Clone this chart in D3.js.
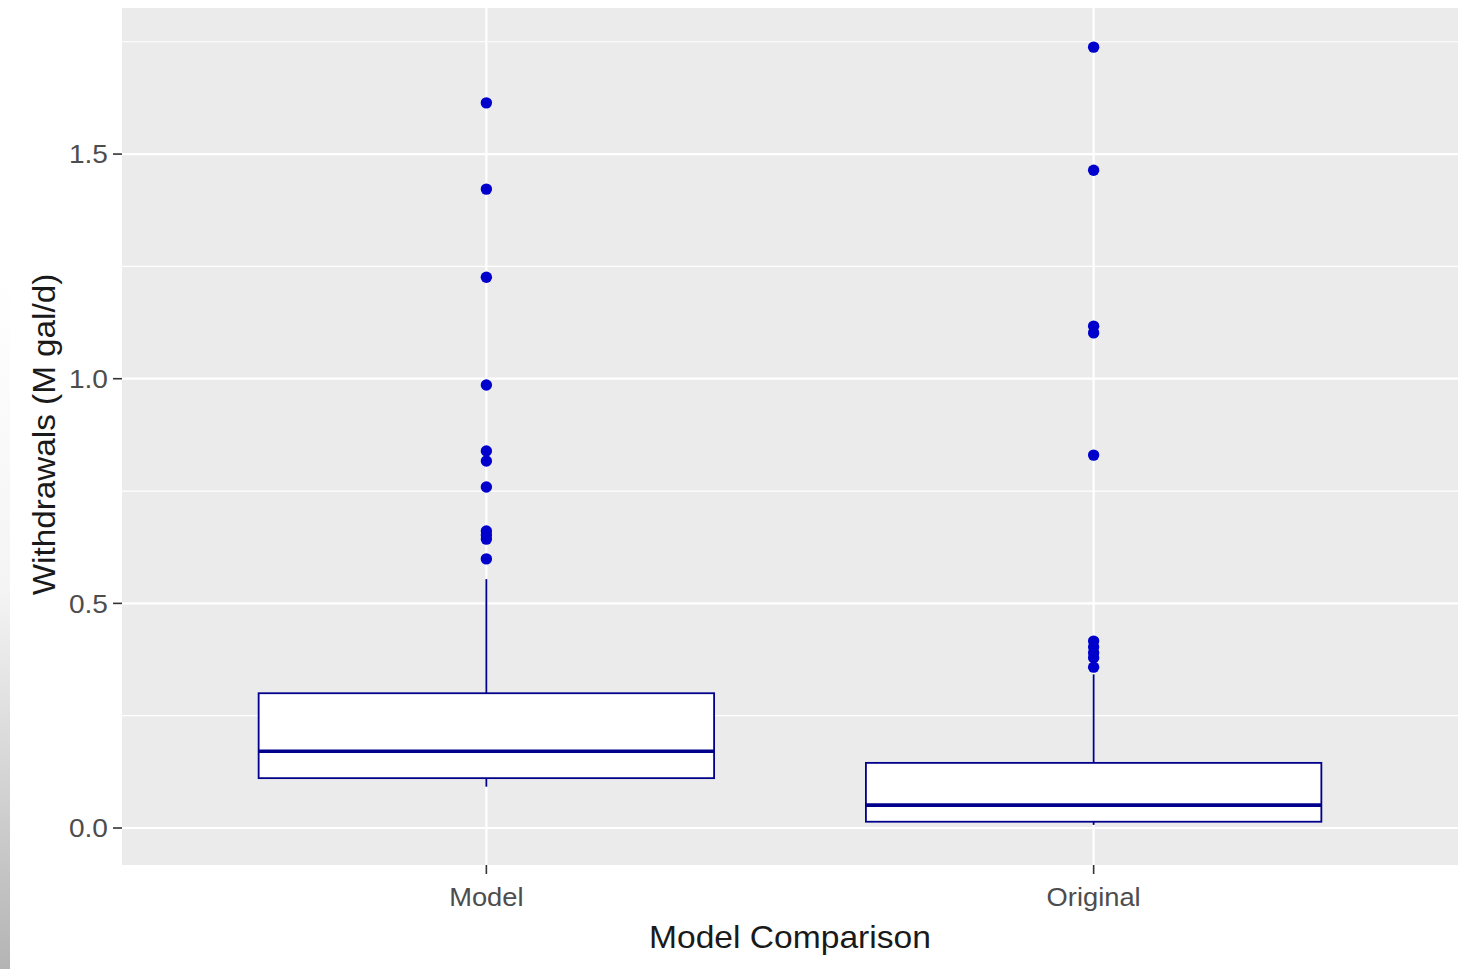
<!DOCTYPE html>
<html>
<head>
<meta charset="utf-8">
<script src="https://cdn.jsdelivr.net/npm/d3@7"></script>
<style>
  html, body { margin: 0; padding: 0; background: #ffffff; }
  svg { display: block; font-family: "Liberation Sans", Arial, sans-serif; }
</style>
</head>
<body>
<svg id="chart" width="1468" height="969"></svg>
<script>
// Categories and box statistics (withdrawals, M gal/d)
const categories = ["Model", "Original"];
const whiskerLow  = [0.092, 0.007];
const q1          = [0.111, 0.014];
const median      = [0.171, 0.051];
const q3          = [0.300, 0.145];
const whiskerHigh = [0.554, 0.342];

// Outlying observations per category
const outliersModel    = [1.614, 1.422, 1.226, 0.986, 0.839, 0.817, 0.759, 0.661, 0.652, 0.643, 0.599];
const outliersOriginal = [1.738, 1.464, 1.117, 1.102, 0.830, 0.416, 0.403, 0.390, 0.379, 0.358];

// Axis ticks
const majorTicks = [0.0, 0.5, 1.0, 1.5];
const minorTicks = [0.25, 0.75, 1.25, 1.75];
const tickLabels = ["0.0", "0.5", "1.0", "1.5"];

const xTitle = "Model Comparison";
const yTitle = "Withdrawals (M gal/d)";

const svg = d3.select("#chart");
const W = 1468, H = 969;
const panel = { left: 122, right: 1458, top: 8, bottom: 865 };

const y = d3.scaleLinear().domain([-0.0823, 1.8251]).range([panel.bottom, panel.top]);
const x = d3.scaleLinear().domain([-0.6, categories.length - 1 + 0.6]).range([panel.left, panel.right]);
const boxHalf = 0.375;

// Shaded strip along the left edge
const defs = svg.append("defs");
const grad = defs.append("linearGradient").attr("id", "edgeShade")
  .attr("x1", 0).attr("y1", 0).attr("x2", 0).attr("y2", 1);
grad.append("stop").attr("offset", 0).attr("stop-color", "#ffffff");
grad.append("stop").attr("offset", 0.45).attr("stop-color", "#f4f4f4");
grad.append("stop").attr("offset", 1).attr("stop-color", "#b4b4b4");
svg.append("rect").attr("x", 0).attr("y", 280).attr("width", 10).attr("height", H - 280)
  .attr("fill", "url(#edgeShade)");

// Panel background
svg.append("rect")
  .attr("x", panel.left).attr("y", panel.top)
  .attr("width", panel.right - panel.left).attr("height", panel.bottom - panel.top)
  .attr("fill", "#EBEBEB");

const grid = svg.append("g");
grid.selectAll("line.minor").data(minorTicks).join("line")
  .attr("x1", panel.left).attr("x2", panel.right)
  .attr("y1", d => y(d)).attr("y2", d => y(d))
  .attr("stroke", "#ffffff").attr("stroke-width", 1.2);
grid.selectAll("line.major").data(majorTicks).join("line")
  .attr("x1", panel.left).attr("x2", panel.right)
  .attr("y1", d => y(d)).attr("y2", d => y(d))
  .attr("stroke", "#ffffff").attr("stroke-width", 2.2);
grid.selectAll("line.vmajor").data(categories).join("line")
  .attr("x1", (d, i) => x(i)).attr("x2", (d, i) => x(i))
  .attr("y1", panel.top).attr("y2", panel.bottom)
  .attr("stroke", "#ffffff").attr("stroke-width", 2.2);

// Boxplots
const boxColor = "#00008B";
const pointColor = "#0000CD";
const boxes = svg.append("g");
categories.forEach((c, i) => {
  const g = boxes.append("g");
  const cx = x(i);
  // whiskers
  g.append("line").attr("x1", cx).attr("x2", cx)
    .attr("y1", y(q3[i])).attr("y2", y(whiskerHigh[i]))
    .attr("stroke", boxColor).attr("stroke-width", 1.8);
  g.append("line").attr("x1", cx).attr("x2", cx)
    .attr("y1", y(q1[i])).attr("y2", y(whiskerLow[i]))
    .attr("stroke", boxColor).attr("stroke-width", 1.8);
  // box
  g.append("rect")
    .attr("x", x(i - boxHalf)).attr("width", x(i + boxHalf) - x(i - boxHalf))
    .attr("y", y(q3[i])).attr("height", y(q1[i]) - y(q3[i]))
    .attr("fill", "#ffffff").attr("stroke", boxColor).attr("stroke-width", 1.8);
  // median
  g.append("line")
    .attr("x1", x(i - boxHalf)).attr("x2", x(i + boxHalf))
    .attr("y1", y(median[i])).attr("y2", y(median[i]))
    .attr("stroke", boxColor).attr("stroke-width", 3.6);
});

// Outliers
const outlierSets = [outliersModel, outliersOriginal];
outlierSets.forEach((vals, i) => {
  boxes.append("g").selectAll("circle").data(vals).join("circle")
    .attr("cx", x(i)).attr("cy", d => y(d)).attr("r", 5.7)
    .attr("fill", pointColor);
});

// Y axis
const yAxis = svg.append("g");
yAxis.selectAll("line").data(majorTicks).join("line")
  .attr("x1", panel.left - 9).attr("x2", panel.left)
  .attr("y1", d => y(d)).attr("y2", d => y(d))
  .attr("stroke", "#333333").attr("stroke-width", 1.6);
yAxis.selectAll("text").data(majorTicks).join("text")
  .attr("x", panel.left - 14).attr("y", d => y(d))
  .attr("dy", "0.36em").attr("text-anchor", "end")
  .attr("fill", "#4D4D4D").attr("font-size", 26)
  .attr("transform", d => `translate(${panel.left - 14},${y(d)}) scale(1.08,1) translate(${-(panel.left - 14)},${-y(d)})`)
  .text((d, i) => tickLabels[i]);

// X axis
const xAxis = svg.append("g");
xAxis.selectAll("line").data(categories).join("line")
  .attr("x1", (d, i) => x(i)).attr("x2", (d, i) => x(i))
  .attr("y1", panel.bottom).attr("y2", panel.bottom + 9)
  .attr("stroke", "#333333").attr("stroke-width", 1.6);
xAxis.selectAll("text").data(categories).join("text")
  .attr("x", (d, i) => x(i)).attr("y", 906)
  .attr("text-anchor", "middle")
  .attr("fill", "#4D4D4D").attr("font-size", 26)
  .attr("transform", (d, i) => `translate(${x(i)},0) scale(1.05,1) translate(${-x(i)},0)`)
  .text(d => d);

// Axis titles
const titleX = (panel.left + panel.right) / 2;
svg.append("text")
  .attr("x", titleX).attr("y", 948)
  .attr("text-anchor", "middle").attr("fill", "#1A1A1A").attr("font-size", 32)
  .attr("transform", `translate(${titleX},0) scale(1.05,1) translate(${-titleX},0)`)
  .text(xTitle);

svg.append("text")
  .attr("transform", `translate(55,${(panel.top + panel.bottom) / 2 - 2}) rotate(-90) scale(1.04,1)`)
  .attr("text-anchor", "middle").attr("fill", "#1A1A1A").attr("font-size", 32)
  .text(yTitle);
</script>
</body>
</html>
